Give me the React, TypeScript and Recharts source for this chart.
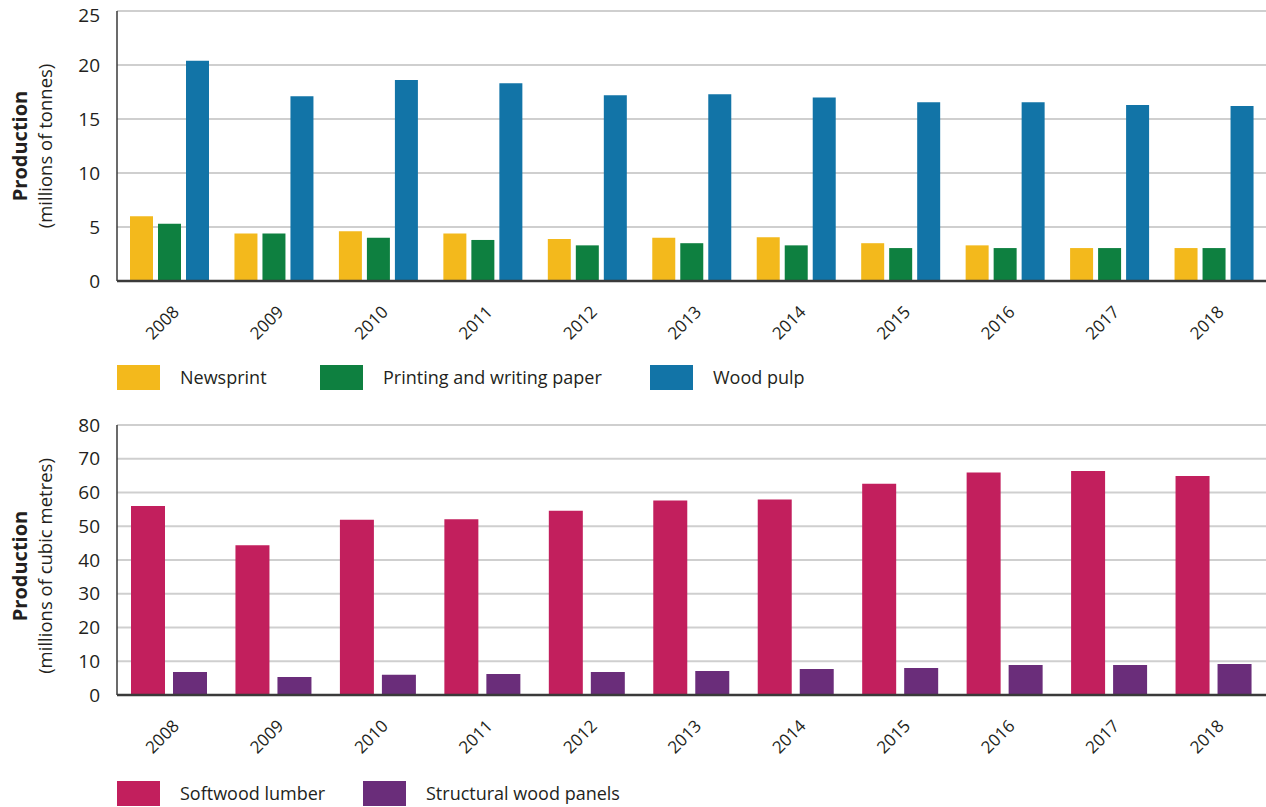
import { BarChart, Bar, XAxis, YAxis, CartesianGrid } from 'recharts';

const YEARS = ['2008', '2009', '2010', '2011', '2012', '2013', '2014', '2015', '2016', '2017', '2018'];

// pulp and paper, millions of tonnes
const NEWSPRINT = [6.0, 4.4, 4.6, 4.4, 3.9, 4.0, 4.05, 3.5, 3.3, 3.05, 3.05];
const PRINTING_PAPER = [5.3, 4.4, 4.0, 3.8, 3.3, 3.5, 3.3, 3.05, 3.05, 3.05, 3.05];
const WOOD_PULP = [20.4, 17.1, 18.6, 18.3, 17.2, 17.3, 17.0, 16.55, 16.55, 16.3, 16.2];
const PAPER_TICKS = [0, 5, 10, 15, 20, 25];

// solid wood, millions of cubic metres
const SOFTWOOD_LUMBER = [56.0, 44.4, 51.9, 52.1, 54.6, 57.6, 57.9, 62.6, 65.9, 66.4, 64.9];
const STRUCTURAL_PANELS = [6.8, 5.3, 6.0, 6.2, 6.8, 7.1, 7.7, 8.0, 8.9, 8.9, 9.2];
const WOOD_TICKS = [0, 10, 20, 30, 40, 50, 60, 70, 80];

const COLORS = {
  newsprint: '#F3B91C',
  printing: '#0E8040',
  pulp: '#1274A7',
  lumber: '#C21F5D',
  panels: '#6A2D7A',
  grid: '#CFCFCF',
  axis: '#3A3A3A',
  text: '#231F20',
};

const FONT = '"Open Sans", sans-serif';

const paperData = YEARS.map((year, i) => ({
  year,
  newsprint: NEWSPRINT[i],
  printing: PRINTING_PAPER[i],
  pulp: WOOD_PULP[i],
}));

const woodData = YEARS.map((year, i) => ({
  year,
  lumber: SOFTWOOD_LUMBER[i],
  panels: STRUCTURAL_PANELS[i],
}));

function YearTick({ x, y, payload }: any) {
  return (
    <g transform={`translate(${x + 11},${y + 24})`}>
      <text
        transform="rotate(-45)"
        textAnchor="end"
        fill={COLORS.text}
        fontFamily={FONT}
        fontSize={17}
      >
        {payload.value}
      </text>
    </g>
  );
}

// value tick; keeps the topmost label inside the page edge
function ValueTick({ x, y, payload }: any) {
  return (
    <text
      x={x}
      y={Math.max(y, 15)}
      dy="0.35em"
      textAnchor="end"
      fill={COLORS.text}
      fontFamily={FONT}
      fontSize={19}
    >
      {payload.value}
    </text>
  );
}

function axisTitle(sub: string, shift: number) {
  return ({ viewBox }: any) => {
    const cy = viewBox.y + viewBox.height / 2 + shift;
    return (
      <g fill={COLORS.text} fontFamily={FONT}>
        <text x={27} y={cy} transform={`rotate(-90, 27, ${cy})`} textAnchor="middle" fontSize={20} fontWeight={700}>
          Production
        </text>
        <text x={52} y={cy} transform={`rotate(-90, 52, ${cy})`} textAnchor="middle" fontSize={18.5}>
          {sub}
        </text>
      </g>
    );
  };
}

function LegendRow({ items, top }: { items: { label: string; color: string; left: number }[]; top: number }) {
  return (
    <>
      {items.map((it) => (
        <div key={it.label} style={{ position: 'absolute', left: it.left, top, display: 'flex', alignItems: 'center' }}>
          <div style={{ width: 43, height: 25, background: it.color }} />
          <span style={{ marginLeft: 20, fontFamily: FONT, fontSize: 18, color: COLORS.text, lineHeight: '25px' }}>
            {it.label}
          </span>
        </div>
      ))}
    </>
  );
}

export default function App() {
  return (
    <div style={{ position: 'absolute', left: 0, top: 0, width: 1266, height: 807, background: '#fff', overflow: 'hidden' }}>
      <div style={{ position: 'absolute', left: 0, top: 0 }}>
        <BarChart
          width={1266}
          height={352}
          data={paperData}
          margin={{ top: 11, right: 0, bottom: 0, left: 0 }}
          barCategoryGap={13}
          barGap={5}
        >
          <CartesianGrid vertical={false} stroke={COLORS.grid} strokeWidth={2} />
          <XAxis
            dataKey="year"
            height={71}
            tick={<YearTick />}
            tickLine={false}
            axisLine={{ stroke: COLORS.axis, strokeWidth: 2.5 }}
            interval={0}
          />
          <YAxis
            width={117}
            domain={[0, 25]}
            ticks={PAPER_TICKS}
            tick={<ValueTick />}
            tickLine={false}
            tickSize={0}
            tickMargin={17}
            axisLine={{ stroke: COLORS.axis, strokeWidth: 1.5 }}
            label={{ content: axisTitle('(millions of tonnes)', 0) }}
          />
          <Bar dataKey="newsprint" fill={COLORS.newsprint} isAnimationActive={false} />
          <Bar dataKey="printing" fill={COLORS.printing} isAnimationActive={false} />
          <Bar dataKey="pulp" fill={COLORS.pulp} isAnimationActive={false} />
        </BarChart>
      </div>
      <LegendRow
        top={365}
        items={[
          { label: 'Newsprint', color: COLORS.newsprint, left: 117 },
          { label: 'Printing and writing paper', color: COLORS.printing, left: 320 },
          { label: 'Wood pulp', color: COLORS.pulp, left: 650 },
        ]}
      />
      <div style={{ position: 'absolute', left: 0, top: 404 }}>
        <BarChart
          width={1266}
          height={372}
          data={woodData}
          margin={{ top: 21, right: 0, bottom: 0, left: 0 }}
          barCategoryGap={14}
          barGap={8}
        >
          <CartesianGrid vertical={false} stroke={COLORS.grid} strokeWidth={2} />
          <XAxis
            dataKey="year"
            height={81}
            tick={<YearTick />}
            tickLine={false}
            axisLine={{ stroke: COLORS.axis, strokeWidth: 2.5 }}
            interval={0}
          />
          <YAxis
            width={117}
            domain={[0, 80]}
            ticks={WOOD_TICKS}
            tick={<ValueTick />}
            tickLine={false}
            tickSize={0}
            tickMargin={17}
            axisLine={{ stroke: COLORS.axis, strokeWidth: 1.5 }}
            label={{ content: axisTitle('(millions of cubic metres)', 6) }}
          />
          <Bar dataKey="lumber" fill={COLORS.lumber} isAnimationActive={false} />
          <Bar dataKey="panels" fill={COLORS.panels} isAnimationActive={false} />
        </BarChart>
      </div>
      <LegendRow
        top={781}
        items={[
          { label: 'Softwood lumber', color: COLORS.lumber, left: 117 },
          { label: 'Structural wood panels', color: COLORS.panels, left: 363 },
        ]}
      />
    </div>
  );
}
